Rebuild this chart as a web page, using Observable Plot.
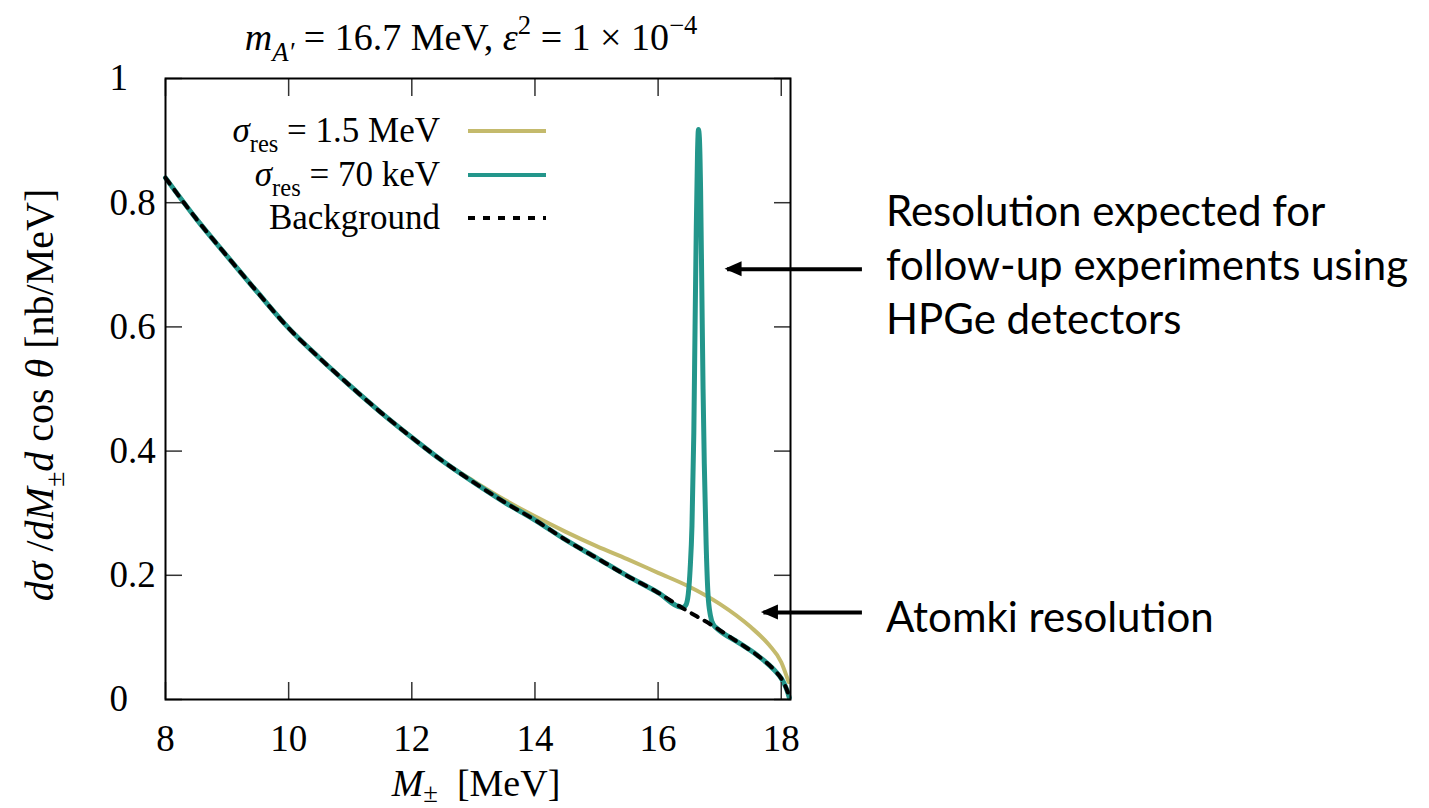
<!DOCTYPE html>
<html><head><meta charset="utf-8">
<script src="https://cdn.jsdelivr.net/npm/d3@7"></script>
<script src="https://cdn.jsdelivr.net/npm/@observablehq/plot@0.6"></script>
<style>body{margin:0;background:#fff} svg{display:block}</style>
</head><body><div id="chart"></div>
<script>
// ---- data ----
const bgM   = [8.0, 8.5, 9.0, 9.5, 10.0, 10.5, 11.0, 11.5, 12.0, 12.5, 13.0, 13.5, 14.0, 14.5, 15.0, 15.5, 16.0, 16.4, 16.9, 17.3, 17.6, 17.9, 18.0, 18.05, 18.1, 18.13];
const bgVal = [0.840, 0.774, 0.714, 0.655, 0.598, 0.550, 0.505, 0.462, 0.422, 0.384, 0.350, 0.318, 0.289, 0.257, 0.228, 0.199, 0.172, 0.147, 0.118, 0.092, 0.072, 0.046, 0.034, 0.025, 0.013, 0.003];

const wideM   = [8.0, 8.5, 9.0, 9.5, 10.0, 10.5, 11.0, 11.5, 12.0, 12.5, 13.0, 13.5, 14.0, 14.5, 15.0, 15.5, 16.0, 16.5, 17.0, 17.5, 17.8, 18.0, 18.12];
const wideVal = [0.840, 0.774, 0.714, 0.655, 0.598, 0.550, 0.505, 0.462, 0.422, 0.384, 0.352, 0.322, 0.295, 0.270, 0.247, 0.226, 0.204, 0.182, 0.154, 0.117, 0.088, 0.060, 0.028];

const narrowM   = [8.0, 8.5, 9.0, 9.5, 10.0, 10.5, 11.0, 11.5, 12.0, 12.5, 13.0, 13.5, 14.0, 14.5, 15.0, 15.5, 16.0, 16.4, 16.45, 16.49, 16.52, 16.55, 16.58, 16.60, 16.62, 16.64, 16.655, 16.67, 16.69, 16.71, 16.73, 16.75, 16.78, 16.81, 16.85, 16.90, 16.95, 17.3, 17.6, 17.9, 18.0, 18.05, 18.1, 18.13];
const narrowVal = [0.840, 0.774, 0.714, 0.655, 0.598, 0.550, 0.505, 0.462, 0.422, 0.384, 0.350, 0.318, 0.289, 0.257, 0.228, 0.199, 0.172, 0.148, 0.152, 0.170, 0.210, 0.280, 0.430, 0.600, 0.760, 0.880, 0.918, 0.905, 0.820, 0.660, 0.500, 0.380, 0.250, 0.170, 0.135, 0.120, 0.115, 0.092, 0.072, 0.046, 0.034, 0.025, 0.013, 0.003];

const xTicks = [8, 10, 12, 14, 16, 18];
const yTicks = [0, 0.2, 0.4, 0.6, 0.8, 1];
const yTickLabels = ["0", "0.2", "0.4", "0.6", "0.8", "1"];
const xDomain = [8, 18.15];
const yDomain = [0, 1];

const seriesNames = ["σres = 1.5 MeV", "σres = 70 keV", "Background"];
const seriesColors = ["#c4ba6c", "#23968b", "#000000"];

const annotations = [
  {x1: 19.31, x2: 17.12, y: 0.693, tx: 19.70, ty: 0.704, label: "Resolution expected for\nfollow-up experiments using\nHPGe detectors"},
  {x1: 19.31, x2: 17.71, y: 0.140, tx: 19.70, ty: 0.137, label: "Atomki resolution"}
];

// ---- tables ----
const bg = bgM.map((m, i) => ({m, v: bgVal[i]}));
const wide = wideM.map((m, i) => ({m, v: wideVal[i]}));
const narrow = narrowM.map((m, i) => ({m, v: narrowVal[i]}));

const serif = "'Liberation Serif', 'DejaVu Serif', serif";
const sans = "Lato, 'Open Sans', sans-serif";
const TICK = 17;
const DASH = "7,8";

const chart = Plot.plot({
  width: 1429, height: 808,
  marginLeft: 165, marginRight: 639, marginTop: 78, marginBottom: 109,
  style: {background: "white", fontFamily: serif, color: "black", overflow: "visible"},
  x: {domain: xDomain},
  y: {domain: yDomain},
  marks: [
    Plot.line(wide, {x: "m", y: "v", stroke: seriesColors[0], strokeWidth: 4, curve: "monotone-x"}),
    Plot.line(narrow, {x: "m", y: "v", stroke: seriesColors[1], strokeWidth: 5, curve: "monotone-x"}),
    Plot.line(bg, {x: "m", y: "v", stroke: seriesColors[2], strokeWidth: 4, strokeDasharray: DASH, curve: "monotone-x"}),
    // inward ticks on all four sides
    Plot.axisX(xTicks, {anchor: "bottom", tickSize: TICK, dy: -TICK, tickFormat: () => "", label: null, stroke: "#333", strokeWidth: 1.5}),
    Plot.axisX(xTicks, {anchor: "top", tickSize: TICK, dy: TICK, tickFormat: () => "", label: null, stroke: "#333", strokeWidth: 1.5}),
    Plot.axisY(yTicks, {anchor: "left", tickSize: TICK, dx: TICK, tickFormat: () => "", label: null, stroke: "#333", strokeWidth: 1.5}),
    Plot.axisY(yTicks, {anchor: "right", tickSize: TICK, dx: -TICK, tickFormat: () => "", label: null, stroke: "#333", strokeWidth: 1.5}),
    // tick labels
    Plot.text(xTicks, {x: d => d, frameAnchor: "bottom", dy: 40, text: d => String(d), lineAnchor: "middle", textAnchor: "middle", fontSize: 37, fill: "black"}),
    Plot.text(yTicks, {y: d => d, frameAnchor: "left", dx: -56, text: d => yTickLabels[yTicks.indexOf(d)], lineAnchor: "middle", textAnchor: "start", fontSize: 37, fill: "black"}),
    Plot.frame({stroke: "black", strokeWidth: 2}),
    // annotations
    Plot.link(annotations, {x1: "x1", x2: "x2", y1: "y", y2: "y", stroke: "black", strokeWidth: 4}),
    Plot.text(annotations, {x: "tx", y: "ty", text: "label", textAnchor: "start", lineAnchor: "middle", fontSize: 42, fontFamily: sans, lineHeight: 1.285, fill: "black"})
  ]
});
document.getElementById("chart").append(chart);

const svg = d3.select(chart);
const sx = chart.scale("x"), sy = chart.scale("y");

// arrow heads
annotations.forEach(a => {
  const tx = sx.apply(a.x2), ty = sy.apply(a.y);
  svg.append("path").attr("d", `M${tx - 2},${ty} L${tx + 15},${ty - 7.5} L${tx + 15},${ty + 7.5} Z`).attr("fill", "black");
});

function rich(sel, parts, fs, subShift = 0.28) {
  let shift = 0;
  parts.forEach(([s, o = {}]) => {
    const t = sel.append("tspan").text(s);
    if (o.i) t.attr("font-style", "italic");
    const target = o.sub ? subShift * fs : o.sup ? -0.42 * fs : 0;
    t.attr("dy", target - shift);
    shift = target;
    if (o.sub || o.sup) t.attr("font-size", fs * 0.7);
  });
}

// title
const title = svg.append("text").attr("x", 471).attr("y", 50).attr("text-anchor", "middle")
  .attr("font-family", serif).attr("font-size", 38).attr("fill", "black");
rich(title, [["m", {i: true}], ["A′", {i: true, sub: true}], [" = 16.7 MeV, "], ["ε", {i: true}], ["2", {sup: true}], [" = 1 × 10"], ["−4", {sup: true}]], 38);

// x label
const xl = svg.append("text").attr("x", 476).attr("y", 796).attr("text-anchor", "middle")
  .attr("font-family", serif).attr("font-size", 38).attr("fill", "black");
rich(xl, [["M", {i: true}], ["±", {sub: true}], ["  [MeV]"]], 38, 0.16);

// y label
const yl = svg.append("text").attr("transform", "translate(53,395) rotate(-90)").attr("text-anchor", "middle")
  .attr("font-family", serif).attr("font-size", 40).attr("fill", "black");
rich(yl, [["dσ", {i: true}], [" /"], ["dM", {i: true}], ["±", {sub: true}], ["d", {i: true}], [" cos "], ["θ", {i: true}], [" [nb/MeV]"]], 40);

// legend
const legY = [131, 175, 218];
seriesNames.forEach((name, i) => {
  const t = svg.append("text").attr("x", 440).attr("y", legY[i] + 11).attr("text-anchor", "end")
    .attr("font-family", serif).attr("font-size", 35).attr("fill", "black");
  if (name.startsWith("σres")) {
    rich(t, [["σ", {i: true}], ["res", {sub: true}], [name.slice(4)]], 35);
  } else t.text(name);
  svg.append("line").attr("x1", 468).attr("x2", 546).attr("y1", legY[i]).attr("y2", legY[i])
    .attr("stroke", seriesColors[i]).attr("stroke-width", 4)
    .attr("stroke-dasharray", i === 2 ? DASH : null);
});
</script>
</body></html>
